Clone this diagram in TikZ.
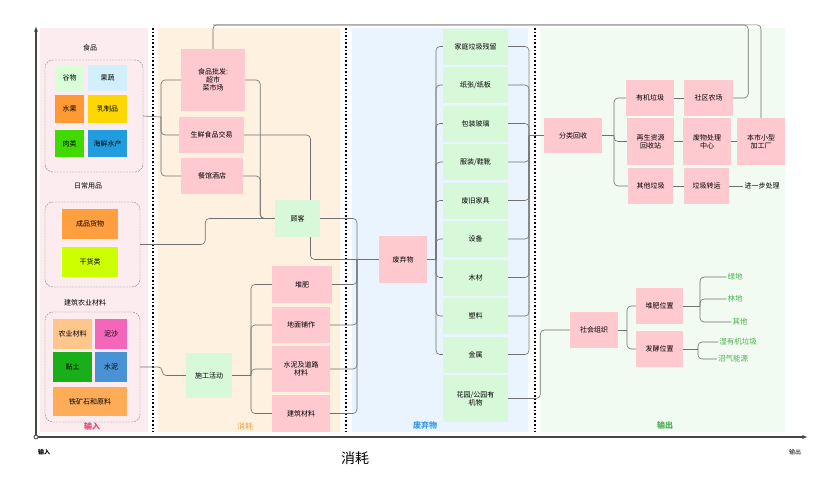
\documentclass[tikz,border=0pt]{standalone}
\usepackage{fontspec}
\setmainfont{Noto Sans CJK SC}
\usepackage{tikz}
\usetikzlibrary{arrows.meta,positioning,calc}
\definecolor{inbg}{HTML}{FDECEF}
\definecolor{conbg}{HTML}{FEF1E0}
\definecolor{wastebg}{HTML}{EAF4FE}
\definecolor{outbg}{HTML}{F1FBF2}
\definecolor{boxpink}{HTML}{FFC9D0}
\definecolor{boxgreen}{HTML}{D8F8DA}
\definecolor{linegray}{HTML}{707070}
\definecolor{axisgray}{HTML}{454545}
\definecolor{inred}{HTML}{E8437A}
\definecolor{conorange}{HTML}{F5A040}
\definecolor{wasteblue}{HTML}{3E9CE8}
\definecolor{outgreen}{HTML}{4CAF50}
\tikzset{
  blk/.style         = {inner sep=1pt,align=center,font=\fontsize{7}{8}\selectfont},
  pbox/.style 2 args = {blk,fill=boxpink,minimum width=#1pt,minimum height=#2pt},
  gbox/.style 2 args = {blk,fill=boxgreen,minimum width=#1pt,minimum height=#2pt},
  tile/.style n args = {3}{blk,fill=#1,minimum width=#2pt,minimum height=#3pt},
  grp/.style 2 args  = {draw=gray,dash pattern=on 2pt off 1pt,rounded corners=8pt,
                        minimum width=#1pt,minimum height=#2pt},
  grplbl/.style      = {font=\fontsize{7}{8}\selectfont},
  conn/.style        = {draw=linegray,line width=0.6pt,rounded corners=4pt},
  outlbl/.style      = {blk,text=outgreen,font=\fontsize{7.5}{8}\selectfont},
  collbl/.style      = {font=\bfseries\fontsize{8}{9}\selectfont},
  sep/.style         = {line width=1.6pt,dotted},
  axis/.style        = {-{Latex[length=2mm]},line width=1.3pt,draw=axisgray},
}

\begin{document}
\begin{tikzpicture}[x=1pt,y=-1pt]
  \useasboundingbox (0,0) rectangle (816,483);
  % column backgrounds
  \fill[inbg]    (40,28)  rectangle (148,432);
  \fill[conbg]   (158,28) rectangle (340,432);
  \fill[wastebg] (352,28) rectangle (528,432);
  \fill[outbg]   (540,28) rectangle (785,432);
  \foreach \x in {153,346,535}
    \draw[sep] (\x,28) -- (\x,432);
  \node[collbl,text=inred]     (lin)    at (92,426)  {输入};
  \node[collbl,text=conorange,font=\fontsize{8}{9}\selectfont] (lcon) at (245,426) {消耗};
  \node[collbl,text=wasteblue] (lwaste) at (425,425) {废弃物};
  \node[collbl,text=outgreen]  (lout)   at (665,425) {输出};
  % axis
  \draw[axis] (36,437) -- (36,26);
  \draw[axis] (36,437) -- (808,437);
  \draw[axisgray,fill=white,line width=0.8pt] (36,437) circle (2pt);
  \node[font=\bfseries\fontsize{6}{7}\selectfont] (xin)  at (44,452)  {输入};
  \node[font=\fontsize{6}{7}\selectfont]          (xout) at (795,452) {输出};
  \node[font=\fontsize{14}{16}\selectfont]        (xcon) at (355,458) {消耗};

  % input: food
  \node[grplbl] (foodlbl) at (90,48) {食品};
  \node[grp={98}{112}] (foodgrp) at (94,116) {};
  \node[tile={green!15}{29}{26}]  (grain)   at (69.5,78)   {谷物};
  \node[tile={cyan!18}{39}{26}]   (veg)     at (107.5,78)  {果蔬};
  \node[tile={orange!80}{29}{28}] (fruit)   at (69.5,109)  {水果};
  \node[tile={yellow!75!orange}{39}{28}] (dairy) at (107.5,109) {乳制品};
  \node[tile={green!60!lime!85!black}{29}{27}] (meat) at (69.5,143.5) {肉类};
  \node[tile={cyan!80!blue!90}{39}{27}] (seafood) at (107.5,143.5) {海鲜水产};
  % input: daily goods
  \node[grplbl] (dailylbl) at (88,186) {日常用品};
  \node[grp={95}{85}] (dailygrp) at (92.5,244.5) {};
  \node[tile={orange!75}{56}{30}]  (goods) at (90,224) {成品货物};
  \node[tile={lime!80!yellow}{56}{30}] (dry) at (90,262) {干货类};
  % input: building and farm materials
  \node[grplbl] (buildlbl) at (85,303) {建筑农业材料};
  \node[grp={95}{110}] (buildgrp) at (92.5,367) {};
  \node[tile={orange!45}{39}{30}]  (agri)   at (72.5,334) {农业材料};
  \node[tile={magenta!60}{32}{30}] (sand)   at (111,334)  {泥沙};
  \node[tile={green!65!black!90}{39}{30}] (clay) at (72.5,367) {黏土};
  \node[tile={cyan!60!blue!75}{32}{30}] (cement) at (111,367) {水泥};
  \node[tile={orange!65}{74}{29}]  (ore)    at (90,401.5) {铁矿石和原料};

  % consumption
  \node[pbox={64}{62}] (wholesale)  at (213,80)    {食品批发:\\超市\\菜市场};
  \node[pbox={65}{36}] (fresh)      at (211.5,135) {生鲜食品交易};
  \node[pbox={62}{36}] (restaurant) at (212,176)   {餐馆酒店};
  \node[gbox={45}{37}] (customer)   at (297.5,218.5) {顾客};
  \node[gbox={46}{45}] (activity)   at (209,375.5) {施工活动};
  \node[pbox={60}{37}] (compost)    at (302,284.5) {堆肥};
  \node[pbox={58}{36}] (paving)     at (301,325)   {地面铺作};
  \node[pbox={58}{46}] (road)       at (301,369)   {水泥及道路\\材料};
  \node[pbox={58}{37}] (bmat)       at (301,413.5) {建筑材料};

  % waste
  \node[pbox={48}{47}] (waste) at (403,259.5) {废弃物};
  \foreach \t [count=\i] in {家庭垃圾残留,纸张/纸板,包装玻璃,服装/鞋靴,废旧家具,设备,木材,塑料,金属}
    \node[gbox={65}{36}] (w\i) at (475.5,{46.5+(\i-1)*38.5}) {\t};
  \node[gbox={65}{47}] (garden) at (475.5,398.5) {花园/公园有\\机物};

  % output
  \node[pbox={58}{35}] (sort)     at (573,135.5) {分类回收};
  \node[pbox={48}{36}] (organic)  at (650,98)    {有机垃圾};
  \node[pbox={47}{47}] (recycle)  at (650.5,141.5) {再生资源\\回收站};
  \node[pbox={45}{36}] (other)    at (650.5,186) {其他垃圾};
  \node[pbox={49}{36}] (farm)     at (708.5,98)  {社区农场};
  \node[pbox={48}{47}] (center)   at (707,141.5) {废物处理\\中心};
  \node[pbox={45}{36}] (transfer) at (706.5,186) {垃圾转运};
  \node[pbox={48}{47}] (factory)  at (761,141.5) {本市小型\\加工厂};
  \node[blk]           (further)  at (762,186)   {进一步处理};
  \node[pbox={48}{36}] (social)   at (594,330)   {社会组织};
  \node[pbox={47}{36}] (pile)     at (659.5,306) {堆肥位置};
  \node[pbox={47}{36}] (ferment)  at (659.5,349) {发酵位置};
  \node[outlbl] (lawn)   at (735,277) {绿地};
  \node[outlbl] (forest) at (735,299) {林地};
  \node[outlbl] (rest)   at (740,322) {其他};
  \node[outlbl] (wet)    at (738,342) {湿有机垃圾};
  \node[outlbl] (biogas) at (733,359) {沼气能源};

  % connectors: input -> consumption
  \coordinate (fb) at (161,117);
  \draw[conn] (foodgrp.east) -- (fb);
  \foreach \n in {wholesale,fresh,restaurant}
    \draw[conn] (fb) |- (\n.west);
  \draw[conn] (wholesale.east) -- ++(15,0) |- (customer.west);
  \draw[conn] (restaurant.east) -- ++(17,0) |- (customer.west);
  \draw[conn] (fresh.east) -| ([xshift=13pt]customer.north);
  \draw[conn] (dailygrp.east) -- ++(65,0) |- (customer.west);
  \draw[conn] (buildgrp.east) -- ++(22,0) |- (activity.west);
  \coordinate (ab) at (251,375.5);
  \draw[conn] (activity.east) -- (ab);
  \foreach \n in {compost,paving,road,bmat}
    \draw[conn] (ab) |- (\n.west);
  % consumption -> waste
  \coordinate (wj) at (357,259.5);
  \draw[conn] (wj) -- (waste.west);
  \foreach \n in {customer,compost,paving,road,bmat}
    \draw[conn] (\n.east) -| (wj);
  \draw[conn] ([xshift=13pt]customer.south) |- (wj);
  \draw[conn] (wholesale.north) -- ++(0,-24) -| (factory.north);
  % waste -> output
  \coordinate (wb) at (436,259.5);
  \coordinate (sj) at (529,135.5);
  \draw[conn] (waste.east) -- (wb);
  \draw[conn] (sj) -- (sort.west);
  \foreach \i in {1,...,9}{
    \draw[conn] (wb) |- (w\i.west);
    \draw[conn] (w\i.east) -| (sj);
  }
  \draw[conn] (garden.east) -- ++(32,0) |- (social.west);
  \coordinate (sb) at (614,135.5);
  \draw[conn] (sort.east) -- (sb);
  \foreach \n in {organic,recycle,other}
    \draw[conn] (sb) |- (\n.west);
  \draw[conn] (organic.east) -- (farm.west);
  \draw[conn] (recycle.east) -- (center.west);
  \draw[conn] (center.east) -- (factory.west);
  \draw[conn] (other.east) -- (transfer.west);
  \draw[conn] (transfer.east) -- (further.west);
  \draw[conn] (farm.east) -- ++(15,0) |- (wholesale.north |- 0,25);
  \coordinate (ob) at (627,330);
  \draw[conn] (social.east) -- (ob);
  \foreach \n in {pile,ferment}
    \draw[conn] (ob) |- (\n.west);
  \coordinate (pb) at (700,306);
  \draw[conn] (pile.east) -- (pb);
  \foreach \n in {lawn,forest,rest}
    \draw[conn] (pb) |- (\n.west);
  \coordinate (fj) at (698,349);
  \draw[conn] (ferment.east) -- (fj);
  \foreach \n in {wet,biogas}
    \draw[conn] (fj) |- (\n.west);
\end{tikzpicture}
\end{document}
